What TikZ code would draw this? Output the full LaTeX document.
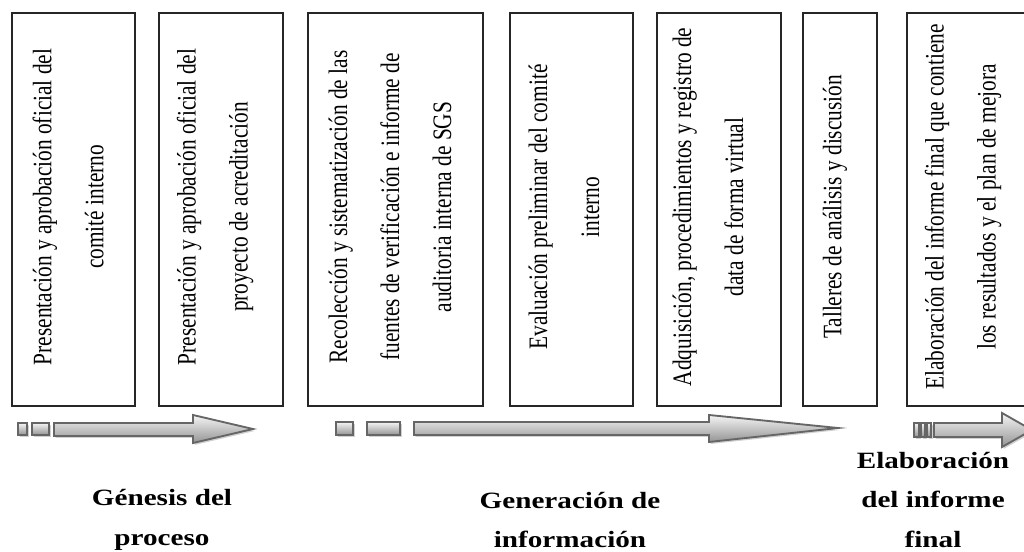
\documentclass[tikz,border=0pt]{standalone}
\usepackage{fontspec}
\setmainfont{Liberation Serif}
\usetikzlibrary{shadows}
\begin{document}
\begin{tikzpicture}[x=0.6pt,y=-0.75pt,xscale=1.25,
  every node/.style={transform shape},
  box/.style={draw=black!85, line width=0.8pt},
  vtext/.style={rotate=90, align=center, inner sep=0pt,
    font=\fontsize{16}{31.2}\selectfont},
  lbl/.style={align=center, inner sep=0pt,
    font=\fontsize{17.5}{29.5}\selectfont\bfseries},
  arr/.style={draw=black!60, line width=1.4pt, top color=black!4, bottom color=black!42,
    drop shadow={shadow xshift=1.2pt, shadow yshift=-1.5pt, opacity=0.3, fill=black!60}}]
\useasboundingbox (0,0) rectangle (1024,552);
\begin{scope}
\clip (0,0) rectangle (1024,552);
% boxes
\draw[box] (12,13) rectangle (135,406);
\draw[box] (159,13) rectangle (283,406);
\draw[box] (308,13) rectangle (483,406);
\draw[box] (510,13) rectangle (633,406);
\draw[box] (657,13) rectangle (781,406);
\draw[box] (803,13) rectangle (877,406);
\draw[box] (1040,13) -- (907,13) -- (907,406) -- (1040,406);
% arrow 1
\draw[arr] (18,423) rectangle (27,435);
\draw[arr] (32,423) rectangle (49,435);
\draw[arr] (54,423) -- (193,423) -- (193,415) -- (253,429) -- (193,443) -- (193,436) -- (54,436) -- cycle;
% arrow 2
\draw[arr] (336,422) rectangle (353,435);
\draw[arr] (367,422) rectangle (400,435);
\draw[arr] (414,422) -- (709,422) -- (709,415) -- (838,428) -- (709,442) -- (709,435) -- (414,435) -- cycle;
% arrow 3
\draw[arr] (914,423) rectangle (919,437);
\draw[arr] (921,423) rectangle (925,437);
\draw[arr] (927,423) rectangle (931,437);
\draw[arr] (934,423) -- (1002,423) -- (1002,413) -- (1032,430) -- (1002,447) -- (1002,437) -- (934,437) -- cycle;
\end{scope}
% box texts
\node[vtext] (t1) at (68,207) {Presentación y aprobación oficial del\\comité interno};
\node[vtext] (t2) at (215,207) {Presentación y aprobación oficial del\\proyecto de acreditación};
\node[vtext] (t3) at (390,207) {Recolección y sistematización de las\\fuentes de verificación e informe de\\auditoria interna de SGS};
\node[vtext] (t4) at (564,207) {Evaluación preliminar del comité\\interno};
\node[vtext] (t5) at (708,207) {Adquisición, procedimientos y registro de\\data de forma virtual};
\node[vtext] (t6) at (835,207) {Talleres de análisis y discusión};
\node[vtext] (t7) at (963,207) {Elaboración del informe final que contiene\\los resultados y el plan de mejora};
% labels
\node[lbl] (l1) at (162,520) {Génesis del\\proceso};
\node[lbl] (l2) at (570,520) {Generación de\\información};
\node[lbl] (l3) at (933,500) {Elaboración\\del informe\\final};
\end{tikzpicture}
\end{document}
